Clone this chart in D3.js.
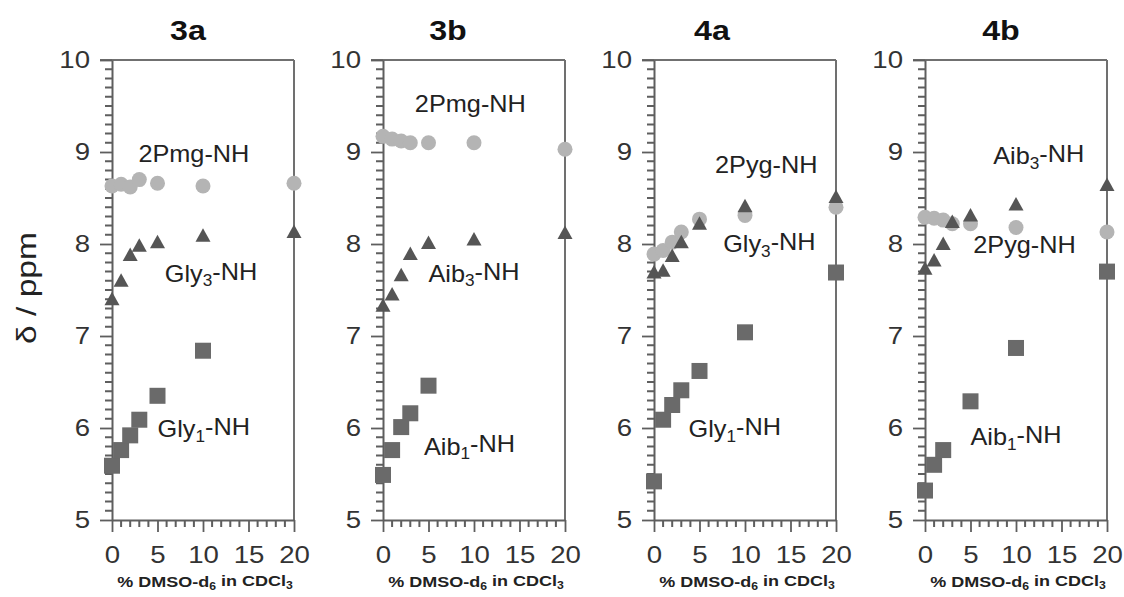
<!DOCTYPE html>
<html>
<head>
<meta charset="utf-8">
<script src="https://cdn.jsdelivr.net/npm/d3@7"></script>
<style>
  body { margin: 0; background: #fff; }
  svg { display: block; font-family: "Liberation Sans", Arial, sans-serif; }
</style>
</head>
<body>
<svg id="chart"></svg>
<script>
// data
const panelNames = ['3a', '3b', '4a', '4b'];
const xValues = [0, 1, 2, 3, 5, 10, 20];

// 2Pmg-NH / 2Pyg-NH (grey circles)
const circleSeries = [
  [8.63, 8.65, 8.62, 8.70, 8.66, 8.63, 8.66],
  [9.17, 9.14, 9.12, 9.10, 9.10, 9.10, 9.03],
  [7.89, 7.93, 8.02, 8.13, 8.27, 8.31, 8.40],
  [8.29, 8.28, 8.26, 8.22, 8.22, 8.18, 8.13]
];
// Gly3 / Aib3 (dark triangles)
const triangleSeries = [
  [7.40, 7.60, 7.88, 7.98, 8.02, 8.09, 8.13],
  [7.33, 7.45, 7.66, 7.89, 8.01, 8.05, 8.12],
  [7.69, 7.71, 7.87, 8.02, 8.22, 8.41, 8.51],
  [7.73, 7.82, 8.00, 8.24, 8.31, 8.43, 8.64]
];
// Gly1 / Aib1 (squares)
const squareSeries = [
  [5.59, 5.76, 5.92, 6.09, 6.35, 6.84, null],
  [5.49, 5.76, 6.01, 6.16, 6.46, null, null],
  [5.42, 6.09, 6.25, 6.41, 6.62, 7.04, 7.69],
  [5.32, 5.60, 5.76, null, 6.29, 6.87, 7.70]
];

// labels, "_" marks a subscript
const labelNames = [
  ['2Pmg-NH', 'Gly_3-NH', 'Gly_1-NH'],
  ['2Pmg-NH', 'Aib_3-NH', 'Aib_1-NH'],
  ['2Pyg-NH', 'Gly_3-NH', 'Gly_1-NH'],
  ['Aib_3-NH', '2Pyg-NH', 'Aib_1-NH']
];
// where each label starts, in data units (% , ppm)
const labelAnchors = [
  [[2.9, 8.89], [5.8, 7.59], [5.0, 5.90]],
  [[3.5, 9.43], [5.0, 7.59], [4.5, 5.71]],
  [[6.7, 8.77], [7.6, 7.91], [3.8, 5.90]],
  [[7.5, 8.87], [5.3, 7.90], [5.0, 5.81]]
];

const xTicks = [0, 5, 10, 15, 20];
const yTicks = [5, 6, 7, 8, 9, 10];
const xMinor = [1, 2, 3, 4, 6, 7, 8, 9, 11, 12, 13, 14, 16, 17, 18, 19];
const yMinor = [];
for (let v = 51; v < 100; v++) {
  if (v % 10 != 0) yMinor.push(v / 10);
}

// layout
const W = 1124, H = 597;
const plotTop = 60, plotBottom = 520;
const plotW = 182, panelLeft0 = 112, panelStep = 271;
const titleX = [188, 448, 712, 1001];
const axisColor = '#5e5e5e';

const svg = d3.select('#chart').attr('width', W).attr('height', H);

const xScale = d3.scaleLinear().domain([0, 20]).range([0, plotW]);
const yScale = d3.scaleLinear().domain([5, 10]).range([plotBottom, plotTop]);

function richText(sel, str) {
  let parts = str.split('_');
  sel.append('tspan').text(parts[0]);
  for (let i = 1; i < parts.length; i++) {
    sel.append('tspan').attr('font-size', '0.68em').attr('dy', '0.3em').text(parts[i].charAt(0));
    sel.append('tspan').attr('dy', '-0.3em').text(parts[i].slice(1));
  }
}

// y axis title
svg.append('text')
  .attr('transform', 'translate(36,288) rotate(-90) scale(1.2,1)')
  .attr('text-anchor', 'middle')
  .attr('font-size', 28)
  .attr('fill', '#222')
  .text('δ / ppm');

panelNames.forEach((name, p) => {
  let g = svg.append('g')
    .attr('transform', `translate(${panelLeft0 + p * panelStep},0)`);

  // frame: top and right
  g.append('line')
    .attr('x1', -12).attr('x2', plotW)
    .attr('y1', plotTop).attr('y2', plotTop)
    .attr('stroke', '#707070').attr('stroke-width', 2);
  g.append('line')
    .attr('x1', plotW).attr('x2', plotW)
    .attr('y1', plotTop).attr('y2', plotBottom)
    .attr('stroke', '#707070').attr('stroke-width', 2);

  // minor ticks, one path for both axes
  let xMinorPath = xMinor.map(d => `M${xScale(d)},${plotBottom}v7`).join('');
  let yMinorPath = yMinor.map(d => `M-7,${yScale(d)}h7`).join('');
  g.append('path')
    .attr('d', xMinorPath + yMinorPath)
    .attr('fill', 'none')
    .attr('stroke', axisColor)
    .attr('stroke-width', 2);

  // major axes
  let xAxisGroup = g.append('g')
    .attr('transform', `translate(0,${plotBottom})`)
    .call(d3.axisBottom(xScale).tickValues(xTicks).tickFormat(d3.format('d'))
      .tickSize(12).tickSizeOuter(0).tickPadding(14));
  let yAxisGroup = g.append('g')
    .call(d3.axisLeft(yScale).tickValues(yTicks).tickFormat(d3.format('d'))
      .tickSize(12).tickSizeOuter(0).tickPadding(10));

  [xAxisGroup, yAxisGroup].forEach(a => {
    a.selectAll('path').attr('stroke', axisColor).attr('stroke-width', 2);
    a.selectAll('.tick line').attr('stroke', axisColor).attr('stroke-width', 1.8);
    a.selectAll('text')
      .attr('font-size', 24)
      .attr('fill', '#333')
      .attr('font-family', '"Liberation Sans", Arial, sans-serif');
  });
  xAxisGroup.selectAll('text').attr('transform', 'scale(1.15,1)');
  yAxisGroup.selectAll('text')
    .attr('x', -22 / 1.15)
    .attr('transform', 'scale(1.15,1)');

  // title
  g.append('text')
    .attr('transform', `translate(${titleX[p] - (panelLeft0 + p * panelStep)},40) scale(1.15,1)`)
    .attr('text-anchor', 'middle')
    .attr('font-size', 28)
    .attr('font-weight', 'bold')
    .attr('fill', '#111')
    .text(name);

  // x axis title
  let xl = g.append('text')
    .attr('transform', `translate(${plotW / 2 + 2},587) scale(1.2,1)`)
    .attr('text-anchor', 'middle')
    .attr('font-size', 15)
    .attr('font-weight', 'bold')
    .attr('fill', '#222');
  richText(xl, '% DMSO-d_6 in CDCl_3');

  // markers
  let circles = xValues.map((x, i) => ({ x: x, v: circleSeries[p][i] })).filter(d => d.v != null);
  let tris = xValues.map((x, i) => ({ x: x, v: triangleSeries[p][i] })).filter(d => d.v != null);
  let squares = xValues.map((x, i) => ({ x: x, v: squareSeries[p][i] })).filter(d => d.v != null);

  g.selectAll('circle.c')
    .data(circles)
    .enter()
    .append('circle')
    .attr('class', 'c')
    .attr('cx', d => xScale(d.x))
    .attr('cy', d => yScale(d.v))
    .attr('r', 7.5)
    .attr('fill', '#b4b4b4');

  g.selectAll('path.t')
    .data(tris)
    .enter()
    .append('path')
    .attr('class', 't')
    .attr('d', 'M0,-7.5L7.5,6L-7.5,6Z')
    .attr('transform', d => `translate(${xScale(d.x)},${yScale(d.v)})`)
    .attr('fill', '#555');

  g.selectAll('rect.s')
    .data(squares)
    .enter()
    .append('rect')
    .attr('class', 's')
    .attr('x', d => xScale(d.x) - 8)
    .attr('y', d => yScale(d.v) - 8)
    .attr('width', 16)
    .attr('height', 16)
    .attr('fill', '#6a6a6a');

  // series labels
  labelNames[p].forEach((lab, k) => {
    let a = labelAnchors[p][k];
    let t = g.append('text')
      .attr('transform', `translate(${xScale(a[0])},${yScale(a[1])}) scale(1.1,1)`)
      .attr('font-size', 23)
      .attr('fill', '#222');
    richText(t, lab);
  });
});
</script>
</body>
</html>
